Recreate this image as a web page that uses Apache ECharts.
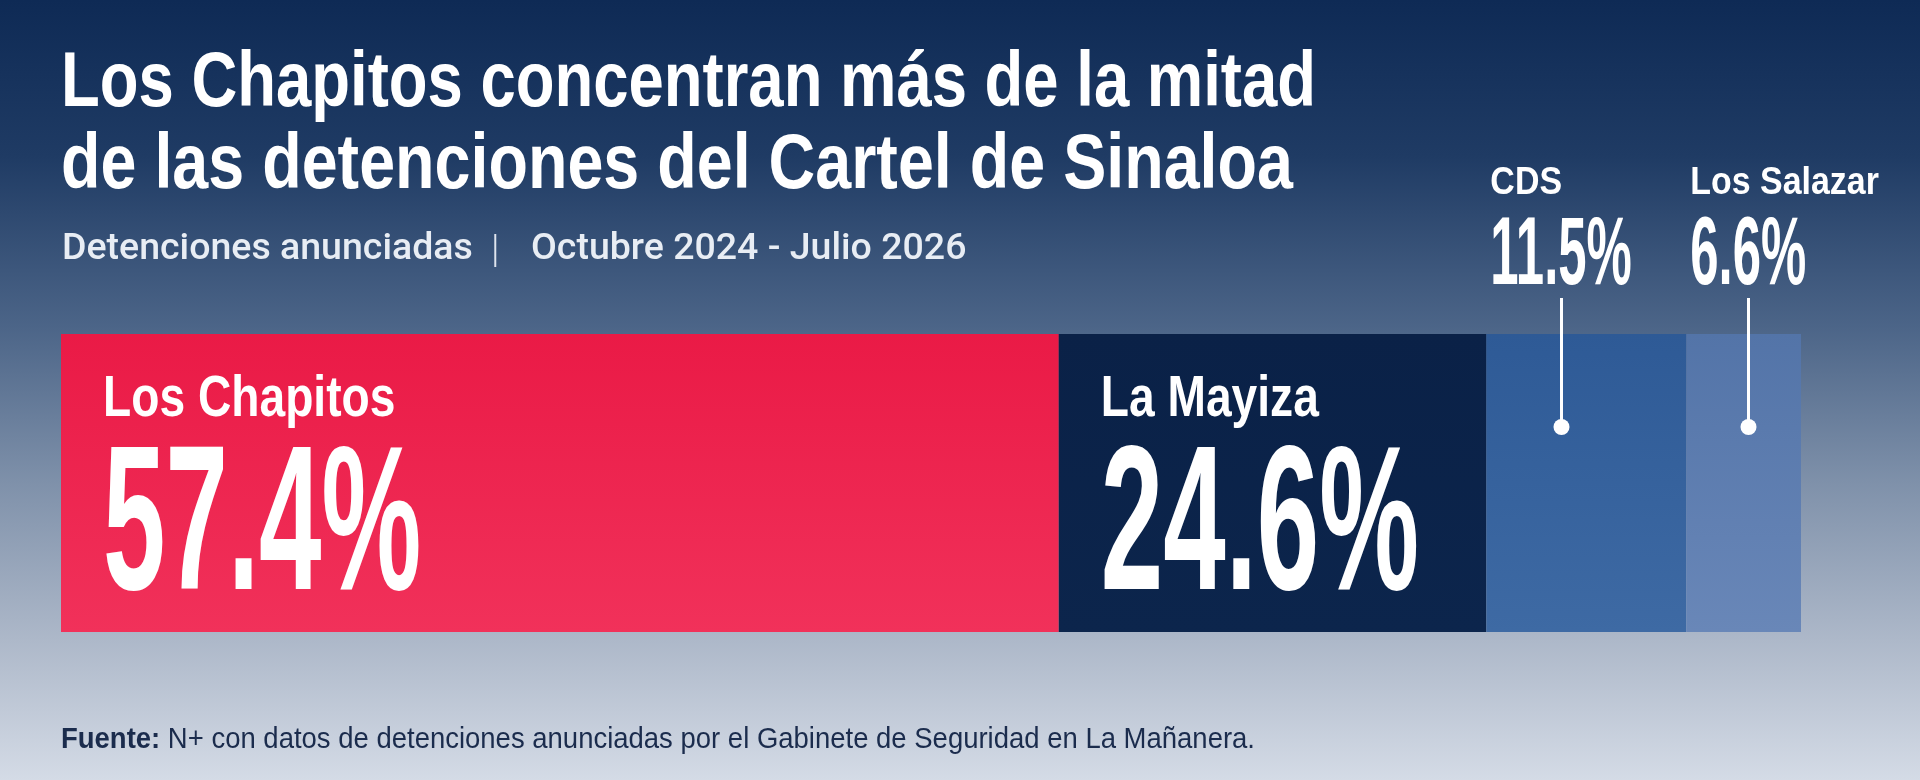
<!DOCTYPE html>
<html>
<head>
<meta charset="utf-8">
<script src="https://cdn.jsdelivr.net/npm/echarts@6/dist/echarts.min.js"></script>
<style>
html,body{margin:0;padding:0;width:1920px;height:780px;overflow:hidden;}
#chart{width:1920px;height:780px;}
</style>
</head>
<body>
<div id="chart"></div>
<script>
// ---- data ----
const groups = ['Los Chapitos', 'La Mayiza', 'CDS', 'Los Salazar'];
const shares = [57.4, 24.6, 11.5, 6.6];
const shareLabels = ['57.4%', '24.6%', '11.5%', '6.6%'];
const categories = ['Detenciones'];
const titleLines = ['Los Chapitos concentran más de la mitad', 'de las detenciones del Cartel de Sinaloa'];
const subtitleParts = ['Detenciones anunciadas', '|', 'Octubre 2024 - Julio 2026'];
const sourceBold = 'Fuente:';
const sourceText = 'N+ con datos de detenciones anunciadas por el Gabinete de Seguridad en La Mañanera.';

// ---- style ----
const barColors = [
  ['#ea1a46', '#f1315a'],
  ['#0a2147', '#0c254c'],
  ['#2e5a96', '#3e6aa4'],
  ['#5374a8', '#6987b8']
];
const labelMode = ['inside', 'inside', 'callout', 'callout'];
const SANS = '"Liberation Sans", Arial, sans-serif';
const ROBOTO = 'Roboto, sans-serif';

const mctx = document.createElement('canvas').getContext('2d');
function fontStr(w, s, f) { return w + ' ' + s + 'px ' + f; }
function textW(txt, w, s, f) {
  mctx.font = fontStr(w, s, f);
  mctx.textBaseline = 'alphabetic';
  return mctx.measureText(txt).width;
}
// distance from the 'middle' baseline used by zrender down to the alphabetic baseline
function midToBase(w, s, f) {
  mctx.font = fontStr(w, s, f);
  mctx.textBaseline = 'middle';
  const d = mctx.measureText('H').actualBoundingBoxDescent;
  mctx.textBaseline = 'alphabetic';
  return d;
}
// text element placed by alphabetic baseline, optional target width
function txt(text, x, baseline, w, s, f, fill, opts) {
  opts = opts || {};
  let sx = opts.scaleX || 1;
  if (opts.width) sx = opts.width / textW(text, w, s, f);
  return {
    type: 'text', x: x, y: baseline - midToBase(w, s, f), scaleX: sx, originX: 0, originY: 0,
    style: {text: text, fill: fill, fontSize: s, fontWeight: w, fontFamily: f, align: 'left', verticalAlign: 'middle'}
  };
}

const total = shares.reduce((a, b) => a + b, 0);
const starts = [];
shares.reduce((acc, v, i) => { starts[i] = acc; return acc + v; }, 0);
const labelData = shares.map((v, i) => [starts[i], starts[i] + v, 0, i]);

function grad(c) {
  return {type: 'linear', x: 0, y: 0, x2: 0, y2: 1, colorStops: [{offset: 0, color: c[0]}, {offset: 1, color: c[1]}]};
}

const barSeries = groups.map((g, i) => ({
  name: g,
  type: 'bar',
  stack: 'total',
  barWidth: '100%',
  barCategoryGap: 0,
  data: [shares[i]],
  itemStyle: {color: grad(barColors[i])},
  silent: true
}));

const NAME_SCALE = 0.81, BIG_SCALE = 0.545, SMALL_NAME_SCALE = 0.87, MID_SCALE = 0.53;

function renderLabel(params, api) {
  const i = api.value(3);
  const p0 = api.coord([api.value(0), 0]);
  const bandH = api.size([0, 1])[1];
  const top = p0[1] - bandH / 2;
  const x0 = p0[0];
  const white = '#ffffff';
  if (labelMode[i] === 'inside') {
    const lx = x0 + 42;
    return {
      type: 'group',
      children: [
        txt(groups[i], lx, top + 82, 'bold', 57, SANS, white, {scaleX: NAME_SCALE}),
        txt(shareLabels[i], lx, top + 255, 'bold', 206, SANS, white, {scaleX: BIG_SCALE})
      ]
    };
  }
  const lx = x0 + 4;
  const vw = textW(shareLabels[i], 'bold', 96, SANS) * MID_SCALE;
  const lineX = Math.round(lx + vw / 2) + 0.5;
  return {
    type: 'group',
    children: [
      txt(groups[i], lx, top - 140, 'bold', 39, SANS, white, {scaleX: SMALL_NAME_SCALE}),
      txt(shareLabels[i], lx, top - 50, 'bold', 96, SANS, white, {scaleX: MID_SCALE}),
      {type: 'line', shape: {x1: lineX, y1: top - 36, x2: lineX, y2: top + 93},
       style: {stroke: white, lineWidth: 3}},
      {type: 'circle', shape: {cx: lineX, cy: top + 93, r: 8}, style: {fill: white}}
    ]
  };
}

// footer (rich text) placement
const footerSize = 30;
const footerW = textW(sourceBold, 'bold', footerSize, SANS) + textW(' ' + sourceText, 'normal', footerSize, SANS);
const footerScale = 1194 / footerW;

const chart = echarts.init(document.getElementById('chart'), null, {renderer: 'canvas'});
chart.setOption({
  animation: false,
  backgroundColor: {
    type: 'linear', x: 0, y: 0, x2: 0, y2: 1,
    colorStops: [
      {offset: 0, color: '#0e2a55'},
      {offset: 0.2, color: '#1f3b64'},
      {offset: 0.42, color: '#4c6588'},
      {offset: 0.62, color: '#7f91aa'},
      {offset: 0.82, color: '#adb8c9'},
      {offset: 1, color: '#d4dbe6'}
    ]
  },
  grid: {left: 61, right: 119, top: 334, height: 298, containLabel: false},
  xAxis: {type: 'value', min: 0, max: total, show: false},
  yAxis: {type: 'category', data: categories, show: false},
  series: barSeries.concat([{
    type: 'custom',
    clip: false,
    silent: true,
    z: 10,
    renderItem: renderLabel,
    encode: {x: [0, 1], y: 2},
    data: labelData
  }]),
  graphic: [
    txt(titleLines[0], 61, 106, 'bold', 78, SANS, '#ffffff', {width: 1255}),
    txt(titleLines[1], 61, 188, 'bold', 78, SANS, '#ffffff', {width: 1232}),
    txt(subtitleParts[0], 62, 259, 500, 37.5, ROBOTO, '#e8edf4'),
    txt(subtitleParts[1], 491, 262, 300, 38, ROBOTO, '#dfe5ee'),
    txt(subtitleParts[2], 531, 259, 500, 37.5, ROBOTO, '#e8edf4'),
    {type: 'text', x: 61, y: 748 - midToBase('normal', footerSize, SANS), scaleX: footerScale, originX: 0, originY: 0,
     style: {
      text: '{b|' + sourceBold + '}{r| ' + sourceText + '}',
      verticalAlign: 'middle',
      rich: {
        b: {fill: '#1b2c4d', fontSize: footerSize, fontWeight: 'bold', fontFamily: SANS},
        r: {fill: '#1b2c4d', fontSize: footerSize, fontWeight: 'normal', fontFamily: SANS}
      }
    }}
  ]
});
</script>
</body>
</html>
